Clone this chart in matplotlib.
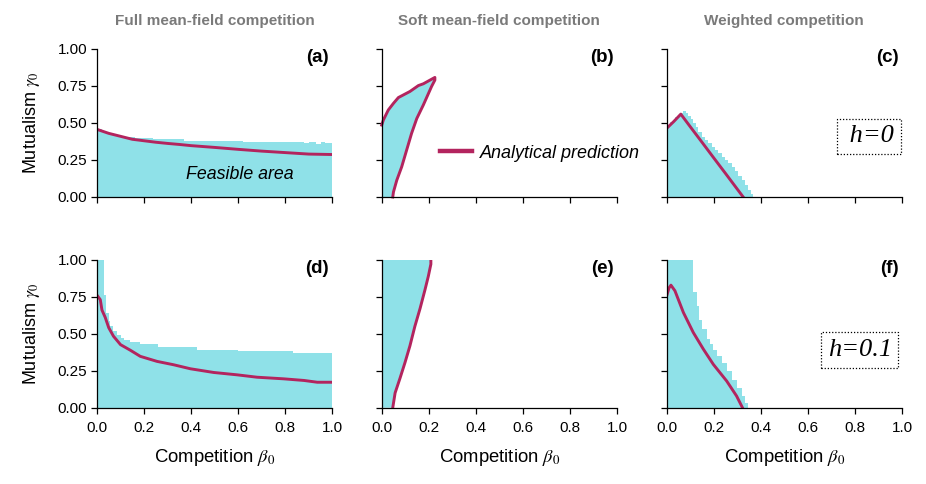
import matplotlib
matplotlib.use("Agg")
import matplotlib.pyplot as plt
from matplotlib.lines import Line2D

plt.rcParams['font.family'] = ['Liberation Sans', 'DejaVu Sans']
plt.rcParams['mathtext.fontset'] = 'stix'

# ---------------- data ----------------
titles = ["Full mean-field competition", "Soft mean-field competition", "Weighted competition"]
panel_labels = ["(a)", "(b)", "(c)", "(d)", "(e)", "(f)"]
xticks = [0.0, 0.2, 0.4, 0.6, 0.8, 1.0]
yticks = [0.0, 0.25, 0.5, 0.75, 1.0]

# (a) full mean-field, h=0
a_fill_beta = [0, 0.02, 0.05, 0.08, 0.12, 0.16, 0.24, 0.37, 0.62, 0.88, 0.90, 0.93, 0.95, 0.97, 1.0]
a_fill_top = [0.46, 0.44, 0.42, 0.41, 0.405, 0.40, 0.39, 0.38, 0.372, 0.365, 0.37, 0.36, 0.37, 0.362, 0.362]
a_line_beta = [0, 0.05, 0.1, 0.15, 0.2, 0.25, 0.3, 0.35, 0.4, 0.5, 0.6, 0.7, 0.8, 0.9, 1.0]
a_line_gamma = [0.457, 0.43, 0.41, 0.39, 0.38, 0.37, 0.362, 0.355, 0.347, 0.335, 0.322, 0.31, 0.30, 0.29, 0.287]

# (b) soft mean-field, h=0
b_upper_beta = [0, 0.0, 0.007, 0.028, 0.05, 0.071, 0.12, 0.156, 0.177, 0.226]
b_upper_gamma = [0.0, 0.486, 0.52, 0.588, 0.633, 0.672, 0.713, 0.753, 0.765, 0.808]
b_right_beta = [0.226, 0.212, 0.177, 0.149, 0.127, 0.106, 0.085, 0.064, 0.05, 0.047]
b_right_gamma = [0.79, 0.747, 0.622, 0.53, 0.43, 0.317, 0.204, 0.113, 0.034, 0.0]

# (c) weighted, h=0
c_fill_beta = [0, 0.014, 0.035, 0.057, 0.071, 0.082, 0.092, 0.102, 0.113, 0.123, 0.135, 0.149,
               0.163, 0.177, 0.191, 0.205, 0.22, 0.234, 0.248, 0.262, 0.276, 0.29, 0.305, 0.319,
               0.333, 0.347, 0.357, 0.365]
c_fill_top = [0.48, 0.51, 0.54, 0.565, 0.584, 0.565, 0.547, 0.525, 0.498, 0.47, 0.44, 0.407,
              0.385, 0.362, 0.34, 0.32, 0.30, 0.27, 0.253, 0.23, 0.204, 0.176, 0.14, 0.113,
              0.08, 0.045, 0.023, 0.023]
c_line_beta = [0, 0.03, 0.06, 0.1, 0.15, 0.2, 0.25, 0.3, 0.325]
c_line_gamma = [0.464, 0.51, 0.56, 0.475, 0.37, 0.264, 0.159, 0.053, 0.0]

# (d) full mean-field, h=0.1
d_fill_beta = [0, 0.028, 0.04, 0.05, 0.057, 0.07, 0.085, 0.1, 0.113, 0.14, 0.184, 0.26, 0.425, 0.6, 0.835, 1.0]
d_fill_top = [1.0, 0.76, 0.64, 0.585, 0.55, 0.517, 0.488, 0.472, 0.46, 0.442, 0.43, 0.41, 0.392, 0.381, 0.37, 0.37]
d_line_beta = [0, 0.014, 0.021, 0.035, 0.05, 0.07, 0.1, 0.142, 0.184, 0.255, 0.326, 0.397, 0.496, 0.596, 0.68, 0.794, 0.88, 0.936, 1.0]
d_line_gamma = [0.76, 0.73, 0.66, 0.61, 0.54, 0.483, 0.426, 0.388, 0.347, 0.313, 0.29, 0.263, 0.238, 0.222, 0.206, 0.195, 0.184, 0.172, 0.172]

# (e) soft mean-field, h=0.1
e_right_beta = [0.047, 0.057, 0.078, 0.099, 0.12, 0.141, 0.163, 0.184, 0.198, 0.209, 0.209]
e_right_gamma = [0.0, 0.1, 0.2, 0.305, 0.418, 0.55, 0.67, 0.797, 0.887, 0.97, 1.0]

# (f) weighted, h=0.1
f_fill_beta = [0, 0.113, 0.127, 0.139, 0.149, 0.17, 0.184, 0.198, 0.212, 0.233, 0.255, 0.276, 0.297, 0.318, 0.332, 0.347]
f_fill_top = [1.0, 0.78, 0.69, 0.59, 0.53, 0.467, 0.43, 0.39, 0.35, 0.305, 0.25, 0.19, 0.135, 0.08, 0.035, 0.035]
f_line_beta = [0, 0.01, 0.018, 0.035, 0.071, 0.113, 0.156, 0.198, 0.255, 0.297, 0.322]
f_line_gamma = [0.756, 0.81, 0.828, 0.79, 0.643, 0.508, 0.395, 0.293, 0.18, 0.079, 0.0]

h_labels = [" h=0", "h=0.1"]

# ---------------- style ----------------
FILL = '#8fe1e8'
LINE = '#b3245e'
TITLE_C = '#7a7a7a'
LW = 2.1

fig = plt.figure(figsize=(9.26, 4.84), dpi=100)
lefts = [97/926, 381.7/926, 666.7/926]
w = 235.3/926
bottoms = [1-197/484, 1-407.7/484]
h = 148/484

axes = []
for r in range(2):
    row = []
    for c in range(3):
        ax = fig.add_axes([lefts[c], bottoms[r], w, h])
        ax.set_xlim(0, 1)
        ax.set_ylim(0, 1)
        ax.set_xticks(xticks)
        ax.set_yticks(yticks)
        for s in ['top', 'right']:
            ax.spines[s].set_visible(False)
        for s in ['left', 'bottom']:
            ax.spines[s].set_linewidth(0.9)
        ax.tick_params(direction='out', length=4, width=0.9, labelsize=11)
        ax.tick_params(axis='x', pad=5.5)
        ax.tick_params(axis='y', pad=3)
        if c == 0:
            ax.set_yticklabels(['%.2f' % v for v in yticks])
            ax.set_ylabel(r'Mutualism $\gamma_0$', fontsize=13)
            ax.yaxis.set_label_coords(-0.232, 0.5)
        else:
            ax.set_yticklabels([])
        if r == 1:
            ax.set_xticklabels(['%.1f' % v for v in xticks])
            ax.set_xlabel(r'Competition $\beta_0$', fontsize=13.3, labelpad=9)
        else:
            ax.set_xticklabels([])
        row.append(ax)
    axes.append(row)

# titles
for c in range(3):
    axes[0][c].set_title(titles[c], fontsize=11, fontweight='bold', color=TITLE_C,
                         family=['Liberation Sans Narrow', 'Liberation Sans'], pad=17)

# panel labels
for i, lab in enumerate(panel_labels):
    ax = axes[i // 3][i % 3]
    ax.text(0.985, 0.94, lab, transform=ax.transAxes, ha='right', va='center',
            fontsize=13.5, fontweight='bold')

# (a)
ax = axes[0][0]
ax.fill_between(a_fill_beta, 0, a_fill_top, step='post', color=FILL, lw=0)
ax.plot(a_line_beta, a_line_gamma, color=LINE, lw=LW)
ax.text(0.606, 0.15, 'Feasible area', transform=ax.transAxes, ha='center', va='center',
        fontsize=12.8, style='italic')

# (b)
ax = axes[0][1]
ax.fill(b_upper_beta + b_right_beta, b_upper_gamma + b_right_gamma, color=FILL, lw=0)
ax.plot(b_upper_beta[1:] + b_right_beta, b_upper_gamma[1:] + b_right_gamma, color=LINE, lw=LW,
        clip_on=False)
handle = Line2D([], [], color=LINE, lw=3.2)
ax.legend([handle], ['Analytical prediction'], loc='center left', bbox_to_anchor=(0.248, 0.297),
          frameon=False, borderaxespad=0, borderpad=0, handlelength=1.75, handletextpad=0.45,
          prop={'size': 13, 'style': 'italic'})

# (c)
ax = axes[0][2]
ax.fill_between(c_fill_beta, 0, c_fill_top, step='post', color=FILL, lw=0)
ax.plot(c_line_beta, c_line_gamma, color=LINE, lw=LW)

# (d)
ax = axes[1][0]
ax.fill_between(d_fill_beta, 0, d_fill_top, step='post', color=FILL, lw=0)
ax.plot(d_line_beta, d_line_gamma, color=LINE, lw=LW)

# (e)
ax = axes[1][1]
ax.fill([0, 0] + e_right_beta[::-1], [0, 1] + e_right_gamma[::-1], color=FILL, lw=0)
ax.plot(e_right_beta, e_right_gamma, color=LINE, lw=LW)

# (f)
ax = axes[1][2]
ax.fill_between(f_fill_beta, 0, f_fill_top, step='post', color=FILL, lw=0)
ax.plot(f_line_beta, f_line_gamma, color=LINE, lw=LW)

# h boxes
bbox = dict(boxstyle='square,pad=0.25', fc='white', ec='black', ls=(0, (1, 1.5)), lw=0.9)
axes[0][2].text(0.858, 0.41, h_labels[0], transform=axes[0][2].transAxes, ha='center', va='center',
                fontsize=19, style='italic', family='Liberation Serif', bbox=bbox)
axes[1][2].text(0.82, 0.39, h_labels[1], transform=axes[1][2].transAxes, ha='center', va='center',
                fontsize=19, style='italic', family='Liberation Serif', bbox=bbox)

fig.savefig('out.png', dpi=100)
